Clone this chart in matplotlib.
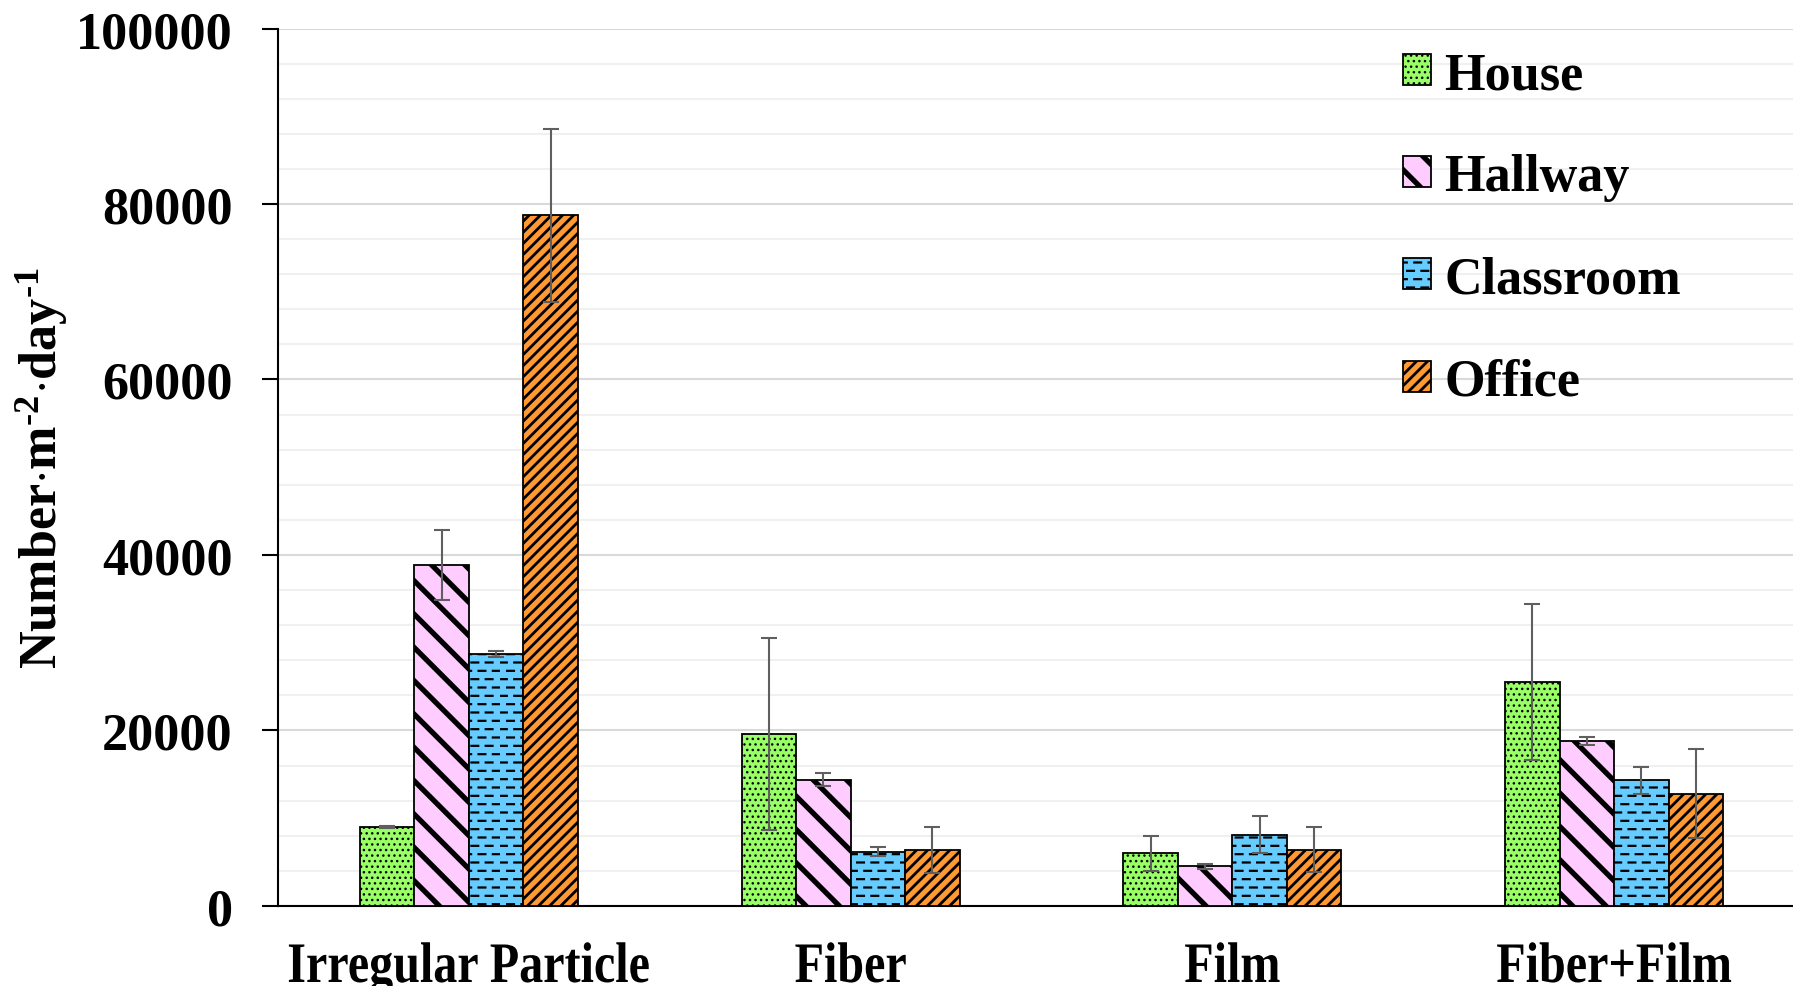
import warnings
import numpy as np
import matplotlib
matplotlib.use("Agg")
import matplotlib.pyplot as plt
import matplotlib.hatch as mhatch
from matplotlib.path import Path
from matplotlib.textpath import TextPath
from matplotlib.patches import PathPatch
from matplotlib.font_manager import FontProperties
from matplotlib.transforms import Affine2D, IdentityTransform

warnings.filterwarnings("ignore")

categories = ["Irregular Particle", "Fiber", "Film", "Fiber+Film"]
sites = ["House", "Hallway", "Classroom", "Office"]

house = [9000, 19600, 6000, 25500]
house_err = [150, 10900, 2000, 8900]
hallway = [38900, 14400, 4500, 18800]
hallway_err = [4000, 700, 250, 400]
classroom = [28700, 6200, 8100, 14300]
classroom_err = [300, 550, 2100, 1550]
office = [78700, 6400, 6400, 12800]
office_err = [9850, 2600, 2550, 5100]

values = [house, hallway, classroom, office]
errors = [house_err, hallway_err, classroom_err, office_err]

colors = ["#99FF66", "#FFCCFF", "#66CCFF", "#FF9933"]
hatches = ["...", "\\", "_", "///"]
hatch_lw = [1.0, 3.8, 1.6, 2.0]


# staggered short horizontal dashes, used for the classroom bars
class DashRowHatch(mhatch.HatchPatternBase):
    def __init__(self, hatch, density):
        self.num_rows = hatch.count("_") * 12
        self.per_row = 7
        self.num_vertices = self.num_rows * self.per_row * 2

    def set_vertices_and_codes(self, vertices, codes):
        step = 1.0 / self.per_row
        k = 0
        for r in range(self.num_rows):
            y = (r + 0.5) / self.num_rows
            shift = 0.5 * step if r % 2 else 0.0
            for c in range(self.per_row):
                x0 = c * step + shift
                vertices[k] = (x0, y)
                vertices[k + 1] = (x0 + 0.068, y)
                codes[k] = Path.MOVETO
                codes[k + 1] = Path.LINETO
                k += 2


mhatch._hatch_types.append(DashRowHatch)

plt.rcParams["font.family"] = ["Liberation Serif", "DejaVu Serif"]
plt.rcParams["font.weight"] = "bold"
plt.rcParams["mathtext.fontset"] = "custom"
plt.rcParams["mathtext.rm"] = "Liberation Serif:bold"
plt.rcParams["mathtext.it"] = "Liberation Serif:bold"
plt.rcParams["mathtext.bf"] = "Liberation Serif:bold"
plt.rcParams["mathtext.default"] = "bf"

fs = 37.5
fig = plt.figure(figsize=(17.93, 9.87), dpi=100)
ax = fig.add_axes([0.1550, 0.0811, 0.8517, 0.8890])

x = np.arange(len(categories))
w = 0.1428
handles = []
for i in range(4):
    with plt.rc_context({"hatch.linewidth": hatch_lw[i]}):
        bars = ax.bar(x + (i - 1.5) * w, values[i], w, color=colors[i],
                      edgecolor="black", linewidth=1.3, hatch=hatches[i],
                      label=sites[i], zorder=3)
    ax.errorbar(x + (i - 1.5) * w, values[i], yerr=errors[i], fmt="none",
                ecolor="#5f5f5f", elinewidth=1.5, capsize=5.5, capthick=1.5,
                zorder=4)
    handles.append(bars)

ax.set_xlim(-0.5, 3.5)
ax.set_ylim(0, 100000)
ax.set_yticks(np.arange(0, 100001, 20000))
ax.set_yticks(np.arange(0, 100001, 4000), minor=True)
ax.set_xticks(x)
ax.set_xticklabels([])

ax.grid(True, which="major", axis="y", color="#d9d9d9", linewidth=1.5, zorder=0)
ax.grid(True, which="minor", axis="y", color="#f0f0f0", linewidth=1.5, zorder=0)
ax.set_axisbelow(True)

for s in ["top", "right"]:
    ax.spines[s].set_visible(False)
ax.spines["left"].set_linewidth(1.5)
ax.spines["bottom"].set_linewidth(1.5)

ax.tick_params(axis="y", which="major", length=11.5, width=1.5, pad=21,
               labelsize=fs)
ax.tick_params(axis="y", which="minor", length=0)
ax.tick_params(axis="x", length=0)

# category names: narrow, tall bold serif, baseline near the bottom edge
prop = FontProperties(family="Liberation Serif", weight="bold")
px = fs * fig.dpi / 72
for xi, name in zip(x, categories):
    tp = TextPath((0, 0), name, size=px, prop=prop)
    ext = tp.get_extents()
    cx = ax.transData.transform((xi, 0))[0]
    tr = (Affine2D().translate(-(ext.x0 + ext.x1) / 2, 0)
          .scale(0.923, 1.10).translate(cx, 4))
    fig.patches.append(PathPatch(tr.transform_path(tp), facecolor="black",
                                 edgecolor="none", transform=IdentityTransform(),
                                 figure=fig))

ax.set_ylabel(r"Number$\cdot$m$^{\text{-2}}$$\cdot$day$^{\text{-1}}$",
              fontsize=fs, fontweight="bold")
ax.yaxis.set_label_coords(-0.136, 0.5)

leg = ax.legend(handles=handles, loc="upper left",
                bbox_to_anchor=(1403 / 1793, 0.9473),
                bbox_transform=fig.transFigure, frameon=False,
                fontsize=fs, handlelength=0.54, handleheight=0.54,
                handletextpad=0.25, labelspacing=1.04, borderpad=0,
                borderaxespad=0)
for p, lw in zip(leg.get_patches(), hatch_lw):
    p._hatch_linewidth = lw

fig.savefig("out.png", dpi=100)
